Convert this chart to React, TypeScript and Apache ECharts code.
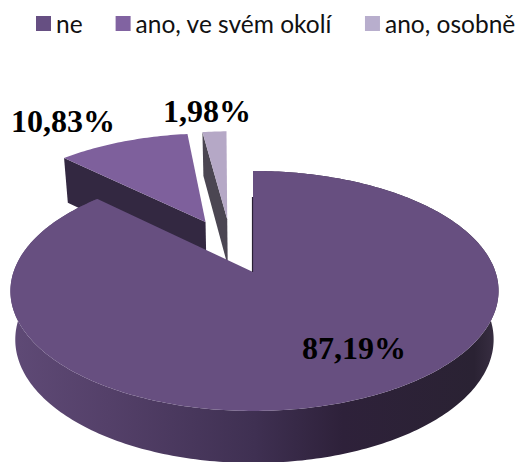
import React, { useEffect, useRef } from "react";
import * as echarts from "echarts";

const categories = ["ne", "ano, ve svém okolí", "ano, osobně"];
const values = [87.19, 10.83, 1.98];

const topColors = ["#674f80", "#7e609c", "#b5a8c6"];
const legendColors = ["#664f82", "#8163a1", "#b8aecd"];
const cutColors = ["#2a2035", "#332841", "#4b4652"];
const explode = [
  { ex: 0, ey: 0, rot: 0 },
  { ex: -0.2127, ey: 0.458, rot: 0 },
  { ex: -0.116, ey: 0.485, rot: -1.2 },
];
const labelPos = [
  [354, 348],
  [63, 121],
  [207, 111],
];

const TIP_X = 253;
const TIP_Y = 272;
const K = 241;
const M = 117;
const C = 0.158;

function project(a: number, r: number, ex: number, ey: number) {
  const X = ex + r * Math.sin(a);
  const Y = ey + r * Math.cos(a);
  const w = 1 + C * Y;
  return [(K * X) / w + 1.5 * Math.abs(X), (-M * Y) / w];
}
const topPt = (p: number[]) => [TIP_X + p[0], TIP_Y + p[1]];
const botPt = (p: number[]) => [TIP_X + 0.98 * p[0], TIP_Y + 1.029 * p[1] + 48];

function makeRender(index: number) {
  return (_params: any, api: any) => {
    const total = values.reduce((s, v) => s + v, 0);
    const before = values.slice(0, index).reduce((s, v) => s + v, 0);
    const v = api.value(0);
    const { ex, ey, rot } = explode[index];
    const shift = (rot * Math.PI) / 180;
    const a0 = (before / total) * 2 * Math.PI + shift;
    const a1 = ((before + v) / total) * 2 * Math.PI + shift;
    const steps = Math.max(4, Math.ceil(((a1 - a0) * 180) / Math.PI));
    const arc: number[][] = [];
    for (let i = 0; i <= steps; i++) {
      arc.push(project(a0 + ((a1 - a0) * i) / steps, 1, ex, ey));
    }
    const tip = project(0, 0, ex, ey);
    const children: any[] = [];
    if (index === 0) {
      const pts = [...arc.map(topPt), ...arc.map(botPt).reverse()];
      children.push({
        type: "polygon",
        shape: { points: pts },
        style: {
          fill: new echarts.graphic.LinearGradient(0, 0, 1, 0, [
            { offset: 0, color: "#5f4a76" },
            { offset: 0.2, color: "#544069" },
            { offset: 0.5, color: "#3f3052" },
            { offset: 0.68, color: "#2e213a" },
            { offset: 0.95, color: "#2a2233" },
            { offset: 1, color: "#3a3044" },
          ]),
        },
      });
    } else {
      const outer = arc[0];
      children.push({
        type: "polygon",
        shape: { points: [topPt(outer), topPt(tip), botPt(tip), botPt(outer)] },
        style: { fill: cutColors[index] },
      });
    }
    children.push({
      type: "polygon",
      shape: { points: [topPt(tip), ...arc.map(topPt)] },
      style: { fill: topColors[index] },
    });
    if (index === 0) {
      const t = topPt(tip);
      const o = topPt(arc[0]);
      children.push({
        type: "line",
        shape: { x1: t[0] - 0.5, y1: t[1], x2: o[0] - 0.5, y2: t[1] - 75 },
        style: { stroke: cutColors[0], lineWidth: 1.2 },
      });
    }
    children.push({
      type: "text",
      style: {
        x: labelPos[index][0],
        y: labelPos[index][1],
        text: v.toFixed(2).replace(".", ",") + "%",
        font: 'bold 32px "Liberation Serif"',
        fill: "#000",
        align: "center",
        verticalAlign: "middle",
      },
    });
    return { type: "group", children };
  };
}

export default function App() {
  const ref = useRef<HTMLDivElement>(null);
  useEffect(() => {
    document.body.style.margin = "0";
    const chart = echarts.init(ref.current!, undefined, { renderer: "svg" });
    chart.setOption({
      animation: false,
      backgroundColor: "#fff",
      legend: {
        data: categories,
        left: 36,
        top: 11,
        padding: 0,
        icon: "rect",
        itemWidth: 15,
        itemHeight: 15,
        itemGap: 33,
        selectedMode: false,
        textStyle: {
          fontFamily: "Lato",
          fontSize: 24.5,
          color: "#111",
        },
      },
      series: categories.map((name, i) => ({
        type: "custom",
        name,
        coordinateSystem: "none",
        z: 2 + (i === 0 ? 2 : i === 1 ? 1 : 0),
        itemStyle: { color: legendColors[i] },
        data: [[values[i]]],
        renderItem: makeRender(i),
      })),
    });
    return () => chart.dispose();
  }, []);
  return <div ref={ref} style={{ width: 524, height: 462 }} />;
}
